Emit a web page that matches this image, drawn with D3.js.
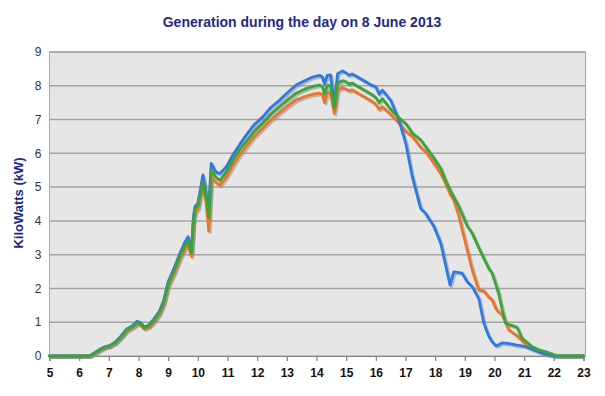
<!DOCTYPE html>
<html>
<head>
<meta charset="utf-8">
<script src="https://cdn.jsdelivr.net/npm/d3@7"></script>
<style>
  body { margin: 0; background: #fff; }
  svg { display: block; font-family: "Liberation Sans", Arial, sans-serif; }
</style>
</head>
<body>
<div id="chart"></div>
<script>
// Hour of day (decimal) for every reading
const hours = [5.0, 6.0, 6.35, 6.5, 6.7, 6.85, 7.0, 7.2, 7.4, 7.6, 7.8, 7.95, 8.05, 8.2, 8.35, 8.5, 8.7, 8.85,
  9.0, 9.2, 9.4, 9.55, 9.67, 9.78, 9.85, 9.9, 10.0, 10.08, 10.17, 10.27, 10.37, 10.45, 10.6, 10.74, 10.96,
  11.18, 11.4, 11.63, 11.9, 12.19, 12.45, 12.75, 13.0, 13.31, 13.6, 13.87, 14.1, 14.2, 14.27, 14.36, 14.47,
  14.6, 14.71, 14.88, 15.0, 15.1, 15.2, 15.4, 15.66, 15.85, 16.0, 16.11, 16.22, 16.5, 16.78, 17.01, 17.23,
  17.51, 17.68, 17.96, 18.19, 18.35, 18.5, 18.63, 18.8, 18.91, 19.08, 19.25, 19.47, 19.64, 19.8, 19.92,
  20.05, 20.14, 20.25, 20.37, 20.48, 20.6, 20.76, 20.93, 21.04, 21.26, 21.5, 21.71, 21.9, 22.0, 22.2, 23.0];

// kW per inverter
const blueKw = [0, 0, 0, 0.08, 0.2, 0.27, 0.3, 0.4, 0.58, 0.8, 0.9, 1.03, 1.0, 0.86, 0.92, 1.08, 1.32, 1.65,
  2.2, 2.6, 3.05, 3.35, 3.53, 3.1, 4.1, 4.42, 4.52, 4.9, 5.36, 4.85, 4.4, 5.7, 5.45, 5.4, 5.6,
  5.95, 6.25, 6.54, 6.85, 7.08, 7.35, 7.57, 7.78, 8.02, 8.15, 8.26, 8.31, 8.26, 8.05, 8.31, 8.32,
  7.45, 8.36, 8.44, 8.38, 8.31, 8.35, 8.25, 8.12, 8.02, 7.97, 7.75, 7.87, 7.57, 6.98, 6.29, 5.3,
  4.37, 4.22, 3.83, 3.33, 2.7, 2.1, 2.49, 2.47, 2.45, 2.2, 2.05, 1.7, 0.97, 0.6, 0.42,
  0.3, 0.33, 0.39, 0.38, 0.37, 0.35, 0.32, 0.3, 0.28, 0.2, 0.12, 0.06, 0.02, 0, 0, 0];

const orangeKw = [0, 0, 0, 0.07, 0.18, 0.25, 0.28, 0.37, 0.54, 0.74, 0.84, 0.95, 0.92, 0.8, 0.86, 1.0, 1.24, 1.55,
  2.08, 2.45, 2.9, 3.15, 3.3, 2.95, 3.95, 4.25, 4.35, 4.7, 5.0, 4.6, 3.7, 5.3, 5.15, 5.05, 5.3,
  5.65, 5.95, 6.2, 6.5, 6.75, 6.98, 7.2, 7.38, 7.58, 7.68, 7.75, 7.78, 7.75, 7.5, 7.8, 7.8,
  7.18, 7.88, 7.95, 7.9, 7.85, 7.88, 7.78, 7.65, 7.55, 7.45, 7.3, 7.38, 7.15, 6.9, 6.65, 6.5,
  6.18, 6.05, 5.7, 5.4, 5.11, 4.8, 4.6, 4.15, 3.73, 3.14, 2.54, 1.95, 1.93, 1.75, 1.66,
  1.4, 1.3, 1.24, 1.0, 0.77, 0.7, 0.6, 0.45, 0.37, 0.24, 0.13, 0.06, 0.02, 0, 0, 0];

const greenKw = [0, 0, 0, 0.08, 0.2, 0.26, 0.29, 0.39, 0.56, 0.77, 0.87, 0.99, 0.96, 0.83, 0.9, 1.04, 1.28, 1.6,
  2.15, 2.52, 2.98, 3.25, 3.4, 3.05, 4.0, 4.35, 4.45, 4.8, 5.15, 4.7, 4.1, 5.5, 5.3, 5.2, 5.45,
  5.8, 6.1, 6.35, 6.65, 6.9, 7.15, 7.38, 7.57, 7.78, 7.9, 7.98, 8.02, 7.98, 7.75, 8.0, 8.02,
  7.35, 8.08, 8.15, 8.12, 8.05, 8.08, 7.98, 7.85, 7.75, 7.65, 7.5, 7.62, 7.3, 7.05, 6.88, 6.6,
  6.4, 6.2, 5.85, 5.55, 5.2, 4.92, 4.7, 4.42, 4.2, 3.85, 3.63, 3.2, 2.89, 2.6, 2.45,
  2.1, 1.85, 1.4, 0.97, 0.93, 0.9, 0.85, 0.52, 0.45, 0.28, 0.18, 0.13, 0.07, 0.04, 0, 0];

const xTicks = d3.range(5, 24);
const yTicks = d3.range(0, 10);

const seriesColors = { orange: '#ed7429', blue: '#2e7ae3', green: '#3aa63a' };

const width = 605;
const height = 396;
const margin = { top: 52, right: 21.5, bottom: 40, left: 49.5 };

const svg = d3.select('#chart')
  .append('svg')
  .attr('width', width)
  .attr('height', height);

const x = d3.scaleLinear()
  .domain([5, 23])
  .range([margin.left, width - margin.right]);

const y = d3.scaleLinear()
  .domain([0, 9])
  .range([height - margin.bottom, margin.top]);

// Plot background
svg.append('rect')
  .attr('x', x(5))
  .attr('y', y(9))
  .attr('width', x(23) - x(5) + 2)
  .attr('height', y(0) - y(9))
  .attr('fill', '#e6e6e6')
  .attr('stroke', '#a6a6a6')
  .attr('stroke-width', 1);

// Horizontal gridlines
svg.append('g')
  .selectAll('line')
  .data(yTicks.filter(d => d > 0))
  .enter()
  .append('line')
  .attr('x1', x(5))
  .attr('x2', x(23) + 2)
  .attr('y1', d => y(d))
  .attr('y2', d => y(d))
  .attr('stroke', '#a3a3a3')
  .attr('stroke-width', 1.5);

// Y axis labels
svg.append('g')
  .selectAll('text')
  .data(yTicks)
  .enter()
  .append('text')
  .attr('x', x(5) - 8)
  .attr('y', d => y(d))
  .attr('dy', '0.35em')
  .attr('text-anchor', 'end')
  .attr('font-size', '12px')
  .attr('fill', '#333')
  .text(d => d);

// X axis
const xAxis = svg.append('g')
  .attr('transform', `translate(0,${y(0)})`)
  .call(d3.axisBottom(x).tickValues(xTicks).tickSize(5).tickPadding(7).tickFormat(d3.format('d')));

xAxis.select('.domain').attr('stroke', '#7f7f7f').attr('stroke-width', 1.2);
xAxis.selectAll('.tick line').attr('stroke', '#7f7f7f').attr('stroke-width', 1.2);
xAxis.selectAll('.tick text')
  .attr('font-size', '12px')
  .attr('font-weight', 'bold')
  .attr('font-family', '"Liberation Sans", Arial, sans-serif')
  .attr('fill', '#111');

// Lines
const line = d3.line()
  .x((d, i) => x(hours[i]))
  .y(d => y(d))
  .curve(d3.curveLinear);

const series = [
  { name: 'orange', values: orangeKw },
  { name: 'blue', values: blueKw },
  { name: 'green', values: greenKw }
];

// soft shadow under the lines
series.forEach(s => {
  svg.append('path')
    .datum(s.values)
    .attr('d', line)
    .attr('transform', 'translate(1.5,1.5)')
    .attr('fill', 'none')
    .attr('stroke', '#8c8c8c')
    .attr('stroke-opacity', 0.55)
    .attr('stroke-width', 3)
    .attr('stroke-linejoin', 'round');
});

series.forEach(s => {
  svg.append('path')
    .datum(s.values)
    .attr('d', line)
    .attr('fill', 'none')
    .attr('stroke', seriesColors[s.name])
    .attr('stroke-width', 2.8)
    .attr('stroke-linejoin', 'round')
    .attr('stroke-linecap', 'round');
});

// Title
svg.append('text')
  .attr('x', 302)
  .attr('y', 27)
  .attr('text-anchor', 'middle')
  .attr('font-size', '14px')
  .attr('font-weight', 'bold')
  .attr('fill', '#1f2a86')
  .text('Generation during the day on 8 June 2013');

// Y axis title
svg.append('text')
  .attr('transform', 'translate(23,203) rotate(-90)')
  .attr('text-anchor', 'middle')
  .attr('font-size', '13px')
  .attr('font-weight', 'bold')
  .attr('fill', '#1f2a86')
  .text('KiloWatts (kW)');
</script>
</body>
</html>
